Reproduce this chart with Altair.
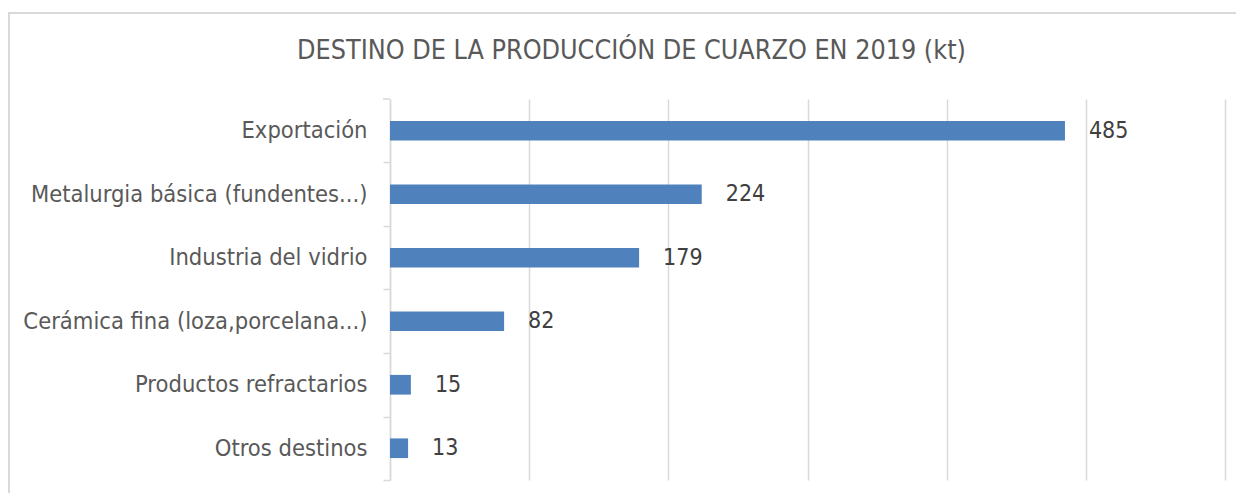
import altair as alt
import pandas as pd

categories = [
    "Exportación",
    "Metalurgia básica (fundentes...)",
    "Industria del vidrio",
    "Cerámica fina (loza,porcelana...)",
    "Productos refractarios",
    "Otros destinos",
]
values = [485, 224, 179, 82, 15, 13]
x_ticks = [0, 100, 200, 300, 400, 500, 600]
title_text = "DESTINO DE LA PRODUCCIÓN DE CUARZO EN 2019 (kt)"

df = pd.DataFrame({"destino": categories, "kt": values})

FONT = "DejaVu Sans Condensed, DejaVu Sans"
W, H = 835, 381
STEP = H / len(categories)

y_enc = alt.Y(
    "destino:N",
    sort=categories,
    scale=alt.Scale(paddingInner=0.69, paddingOuter=0.345),
    axis=alt.Axis(
        title=None,
        domainColor="#d9d9d9",
        domainWidth=1.5,
        tickColor="#d9d9d9",
        tickWidth=1.5,
        tickSize=7,
        tickOffset=STEP / 2,
        labelOffset=-STEP / 2,
        labelPadding=16,
        labelFont=FONT,
        labelFontSize=23.5,
        labelColor="#595959",
        labelLimit=400,
        grid=False,
    ),
)
x_enc = alt.X(
    "kt:Q",
    scale=alt.Scale(domain=[0, 600], nice=False),
    axis=alt.Axis(
        title=None,
        values=x_ticks,
        labels=False,
        ticks=False,
        domain=False,
        grid=True,
        gridColor="#d9d9d9",
        gridWidth=1.5,
    ),
)

bars = alt.Chart(df).mark_bar(color="#4f81bd").encode(y=y_enc, x=x_enc)
labels = alt.Chart(df).mark_text(
    align="left", baseline="middle", dx=24, font=FONT, fontSize=23, color="#404040"
).encode(y=alt.Y("destino:N", sort=categories), x="kt:Q", text="kt:Q")

top_tick = alt.Chart(df.head(1)).mark_rule(color="#d9d9d9", strokeWidth=1.5).encode(
    x=alt.value(-7), x2=alt.value(0), y=alt.value(0)
)

frame = alt.Chart(df.head(1)).mark_rect(
    fill=None, fillOpacity=0, stroke="#d9d9d9", strokeWidth=2
).encode(
    x=alt.value(-381), x2=alt.value(860), y=alt.value(-86), y2=alt.value(400)
)

chart = (
    alt.layer(frame, top_tick, bars, labels)
    .properties(
        width=W,
        height=H,
        autosize=alt.AutoSizeParams(type="none"),
        padding={"left": 382, "top": 91, "right": 11, "bottom": 13},
        title=alt.TitleParams(
            title_text,
            font=FONT,
            fontSize=26.7,
            fontWeight="normal",
            color="#595959",
            anchor="middle",
            frame="group",
            baseline="alphabetic",
            dx=-176,
            offset=-74,
        ),
    )
    .configure_view(stroke=None)
)

chart.save("out.html", embed_options={"renderer": "svg", "actions": False})
